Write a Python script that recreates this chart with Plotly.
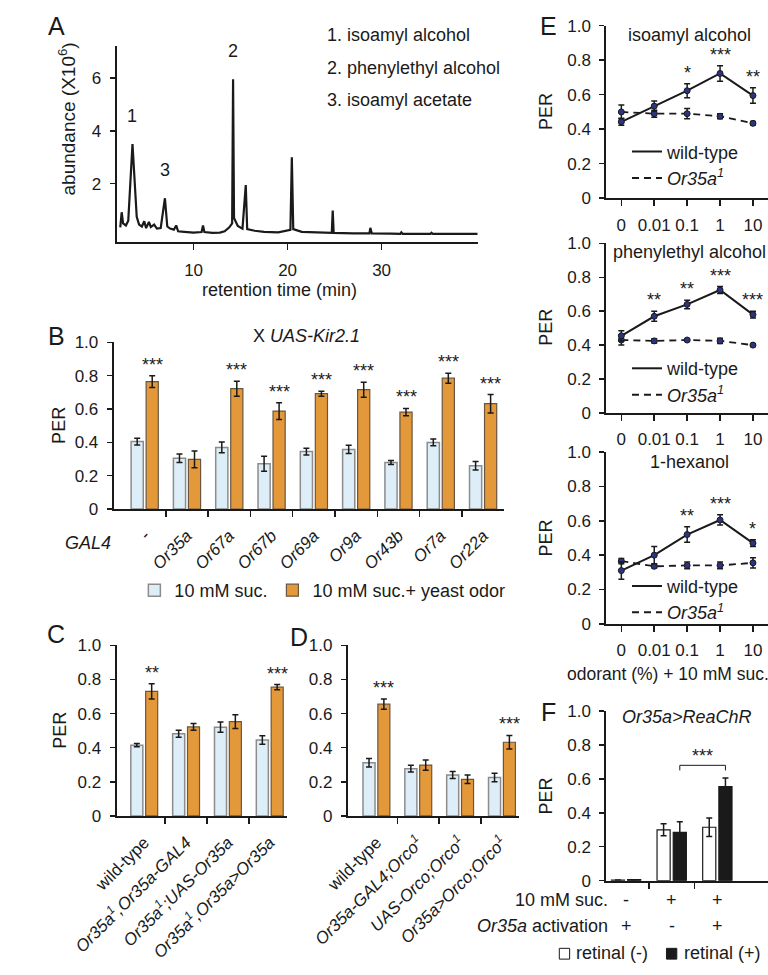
import plotly.graph_objects as go

W, H = 768, 975
FONT = "Liberation Sans, Arial, Helvetica, sans-serif"
INK = "#1a1a1a"
LIGHT, LIGHT_EDGE = "#ddeef8", "#8c8c8c"
ORANGE, ORANGE_EDGE = "#e3983a", "#6a5640"
DOT = "#2b3480"

# ---------------- data ----------------
# A: GC-MS chromatogram of yeast headspace
rt_min = [2.2, 2.35, 2.5, 2.8, 3.05, 3.5, 3.95, 4.2, 4.5, 4.75,
          4.95, 5.25, 5.45, 5.8, 6.1, 6.5, 6.95, 7.2, 7.5, 7.9,
          8.15, 8.35, 9.0, 10.0, 10.85, 11.0, 11.15, 12.0, 12.8, 13.3,
          13.8, 14.1, 14.2, 14.3, 14.7, 15.2, 15.55, 15.7, 16.5, 17.5,
          19.0, 20.3, 20.45, 20.6, 21.5, 23.0, 24.7, 24.8, 24.9, 27.0,
          28.7, 28.8, 28.95, 31.0, 32.0, 32.1, 32.25, 35.2, 35.3, 35.45,
          40.2]
abundance = [0.35, 0.92, 0.5, 0.42, 0.6, 3.5, 0.75, 0.45, 0.38, 0.58,
             0.32, 0.55, 0.36, 0.45, 0.3, 0.32, 1.45, 0.38, 0.3, 0.26,
             0.42, 0.2, 0.18, 0.15, 0.17, 0.42, 0.17, 0.14, 0.15, 0.2,
             0.35, 0.5, 5.95, 0.7, 0.4, 0.3, 1.95, 0.28, 0.22, 0.18,
             0.16, 0.25, 3.0, 0.28, 0.18, 0.15, 0.14, 0.98, 0.14, 0.12,
             0.12, 0.33, 0.12, 0.11, 0.1, 0.16, 0.1, 0.1, 0.14, 0.1,
             0.1]
peak_ids = ["1", "2", "3"]
peak_rt = [3.5, 14.2, 6.95]
peak_top = [3.5, 5.95, 1.45]
compound_names = ["1. isoamyl alcohol", "2. phenylethyl alcohol", "3. isoamyl acetate"]

# B: GAL4 x UAS-Kir2.1
b_genotypes = ["-", "Or35a", "Or67a", "Or67b", "Or69a", "Or9a", "Or43b", "Or7a", "Or22a"]
b_suc = [0.405, 0.305, 0.37, 0.272, 0.345, 0.358, 0.28, 0.40, 0.26]
b_suc_err = [0.02, 0.025, 0.032, 0.045, 0.02, 0.025, 0.012, 0.02, 0.025]
b_yeast = [0.765, 0.298, 0.722, 0.588, 0.692, 0.716, 0.582, 0.785, 0.632]
b_yeast_err = [0.035, 0.05, 0.045, 0.05, 0.015, 0.045, 0.022, 0.03, 0.055]
b_stars = ["***", "", "***", "***", "***", "***", "***", "***", "***"]

# C: Or35a rescue
c_genotypes = ["wild-type",
               "<i>Or35a<sup>1</sup>,Or35a-GAL4</i>",
               "<i>Or35a<sup>1</sup>;UAS-Or35a</i>",
               "<i>Or35a<sup>1</sup>,Or35a&gt;Or35a</i>"]
c_suc = [0.415, 0.482, 0.52, 0.445]
c_suc_err = [0.01, 0.02, 0.03, 0.025]
c_yeast = [0.73, 0.522, 0.553, 0.755]
c_yeast_err = [0.045, 0.02, 0.04, 0.015]
c_stars = ["**", "", "", "***"]

# D: Orco rescue
d_genotypes = ["wild-type",
               "<i>Or35a-GAL4;Orco<sup>1</sup></i>",
               "<i>UAS-Orco;Orco<sup>1</sup></i>",
               "<i>Or35a&gt;Orco;Orco<sup>1</sup></i>"]
d_suc = [0.312, 0.277, 0.24, 0.225]
d_suc_err = [0.025, 0.02, 0.02, 0.025]
d_yeast = [0.655, 0.298, 0.215, 0.432]
d_yeast_err = [0.03, 0.03, 0.025, 0.04]
d_stars = ["***", "", "", "***"]

legend_labels = ["10 mM suc.", "10 mM suc.+ yeast odor"]

# E: odorant dose responses
e_conc = ["0", "0.01", "0.1", "1", "10"]
iso_wt = [0.443, 0.534, 0.623, 0.723, 0.595]
iso_wt_err = [0.02, 0.03, 0.04, 0.045, 0.045]
iso_mut = [0.50, 0.49, 0.49, 0.475, 0.434]
iso_mut_err = [0.04, 0.02, 0.03, 0.015, 0.01]
iso_stars = ["", "", "*", "***", "**"]

phe_wt = [0.455, 0.57, 0.64, 0.725, 0.58]
phe_wt_err = [0.03, 0.03, 0.025, 0.02, 0.02]
phe_mut = [0.43, 0.425, 0.43, 0.425, 0.40]
phe_mut_err = [0.03, 0.012, 0.006, 0.015, 0.008]
phe_stars = ["", "**", "**", "***", "***"]

hex_wt = [0.31, 0.40, 0.52, 0.605, 0.47]
hex_wt_err = [0.05, 0.05, 0.045, 0.03, 0.02]
hex_mut = [0.365, 0.335, 0.34, 0.34, 0.355]
hex_mut_err = [0.015, 0.01, 0.02, 0.02, 0.03]
hex_stars = ["", "", "**", "***", "*"]

e_titles = ["isoamyl alcohol", "phenylethyl alcohol", "1-hexanol"]
line_labels = ["wild-type", "<i>Or35a<sup>1</sup></i>"]

# F: optogenetic activation
f_suc = ["-", "+", "+"]
f_act = ["+", "-", "+"]
f_ret_minus = [0.004, 0.30, 0.315]
f_ret_minus_err = [0.0, 0.035, 0.055]
f_ret_plus = [0.006, 0.285, 0.555]
f_ret_plus_err = [0.0, 0.062, 0.05]
f_legend = ["retinal (-)", "retinal (+)"]

per_vals = [0, 0.2, 0.4, 0.6, 0.8, 1.0]
per_text = ["0", "0.2", "0.4", "0.6", "0.8", "1.0"]

# ---------------- helpers ----------------
def px_x(p):
    return p / W


def px_y(p):
    return 1 - p / H


BARGAP = 0.29
OFF = (1 - BARGAP) / 4
fig = go.Figure()
ann = []
shapes = []


def text(x, y, s, size=18, xref="paper", yref="paper", xanchor="center", yanchor="middle", angle=0, **kw):
    ann.append(dict(x=x, y=y, xref=xref, yref=yref, text=s, showarrow=False, xanchor=xanchor,
                    yanchor=yanchor, textangle=angle, font=dict(size=size, family=FONT, color=INK), **kw))


def err(arr, w=3):
    return dict(type="data", array=arr, color=INK, thickness=1.5, width=w)


def y_axis(top, bottom, rng, vals, labels, anchor):
    return dict(domain=[px_y(bottom), px_y(top)], range=rng, tickvals=vals, ticktext=labels,
                ticks="outside", ticklen=5, tickwidth=1.5, tickcolor=INK, showline=True,
                linecolor=INK, linewidth=2, showgrid=False, zeroline=False, anchor=anchor,
                tickfont=dict(size=17), ticklabelstandoff=5, fixedrange=True)


def x_bar_axis(left, right, rng, n, labels, anchor, show_labels=True):
    return dict(domain=[px_x(left), px_x(right)], range=rng, tickvals=list(range(n)), ticktext=labels,
                ticks="", tickangle=-45, showticklabels=show_labels,
                minor=dict(tickvals=[k + 0.5 for k in range(n - 1)], ticks="outside", ticklen=6,
                           tickwidth=1.5, tickcolor=INK),
                showline=True, linecolor=INK, linewidth=2, showgrid=False, zeroline=False,
                anchor=anchor, tickfont=dict(size=17), ticklabelstandoff=8, fixedrange=True)


# ---------------- A ----------------
fig.add_trace(go.Scatter(x=rt_min, y=abundance, mode="lines", line=dict(color=INK, width=2.2),
                         xaxis="x", yaxis="y", showlegend=False, hoverinfo="skip"))
for pid, prt, ptop in zip(peak_ids, peak_rt, peak_top):
    text(prt, ptop + 0.6, pid, xref="x", yref="y", yanchor="bottom")
for i, nm in enumerate(compound_names):
    text(px_x(297), px_y(27 + 33 * i), nm, xanchor="left")

# ---------------- B, C, D ----------------
panels = [
    ("x2", "y2", b_genotypes, b_suc, b_suc_err, b_yeast, b_yeast_err, b_stars, True),
    ("x3", "y3", c_genotypes, c_suc, c_suc_err, c_yeast, c_yeast_err, c_stars, False),
    ("x4", "y4", d_genotypes, d_suc, d_suc_err, d_yeast, d_yeast_err, d_stars, False),
]
for xa, ya, cats, v1, e1, v2, e2, stars, show in panels:
    xs = list(range(len(cats)))
    fig.add_trace(go.Bar(x=xs, y=v1, error_y=err(e1), name=legend_labels[0], showlegend=show,
                         marker=dict(color=LIGHT, line=dict(color=LIGHT_EDGE, width=1.5)),
                         xaxis=xa, yaxis=ya, legend="legend", hoverinfo="skip"))
    fig.add_trace(go.Bar(x=xs, y=v2, error_y=err(e2), name=legend_labels[1], showlegend=show,
                         marker=dict(color=ORANGE, line=dict(color=ORANGE_EDGE, width=1.2)),
                         xaxis=xa, yaxis=ya, legend="legend", hoverinfo="skip"))
    for i, s in enumerate(stars):
        if s:
            text(i + OFF, v2[i] + e2[i], s, xref=xa, yref=ya, yanchor="bottom", yshift=-1)

# ---------------- E ----------------
e_sets = [
    ("x5", "y5", iso_wt, iso_wt_err, iso_mut, iso_mut_err, iso_stars, "legend2"),
    ("x6", "y6", phe_wt, phe_wt_err, phe_mut, phe_mut_err, phe_stars, "legend3"),
    ("x7", "y7", hex_wt, hex_wt_err, hex_mut, hex_mut_err, hex_stars, "legend4"),
]
for xa, ya, wt, wte, mu, mue, stars, lg in e_sets:
    fig.add_trace(go.Scatter(x=e_conc, y=mu, error_y=err(mue), mode="lines+markers",
                             line=dict(color=INK, width=1.8, dash="7px,5px"),
                             marker=dict(color=DOT, size=6, line=dict(color=INK, width=1)),
                             xaxis=xa, yaxis=ya, showlegend=False, hoverinfo="skip"))
    fig.add_trace(go.Scatter(x=e_conc, y=wt, error_y=err(wte), mode="lines+markers",
                             line=dict(color=INK, width=2),
                             marker=dict(color=DOT, size=6, line=dict(color=INK, width=1)),
                             xaxis=xa, yaxis=ya, showlegend=False, hoverinfo="skip"))
    fig.add_trace(go.Scatter(x=[None], y=[None], mode="lines", name=line_labels[0],
                             line=dict(color=INK, width=2), xaxis=xa, yaxis=ya, legend=lg))
    fig.add_trace(go.Scatter(x=[None], y=[None], mode="lines", name=line_labels[1],
                             line=dict(color=INK, width=2, dash="7px,5px"), xaxis=xa, yaxis=ya, legend=lg))
    for i, s in enumerate(stars):
        if s:
            # category axes are positioned by index
            text(i, wt[i] + wte[i], s, xref=xa, yref=ya, yanchor="bottom", yshift=-1)

# ---------------- F ----------------
fx = list(range(len(f_suc)))
f_fill = ["white", INK]
fig.add_trace(go.Bar(x=fx, y=f_ret_minus, error_y=err(f_ret_minus_err), name=f_legend[0],
                     marker=dict(color=f_fill[0], line=dict(color=INK, width=1.2)), showlegend=False,
                     xaxis="x8", yaxis="y8", hoverinfo="skip"))
fig.add_trace(go.Bar(x=fx, y=f_ret_plus, error_y=err(f_ret_plus_err), name=f_legend[1],
                     marker=dict(color=f_fill[1], line=dict(color=INK, width=1.2)), showlegend=False,
                     xaxis="x8", yaxis="y8", hoverinfo="skip"))
for i, (s, a) in enumerate(zip(f_suc, f_act)):
    text(i, px_y(909), s, xref="x8")
    text(i, px_y(935), a, xref="x8")
text(px_x(600), px_y(909), "10 mM suc.", xanchor="right")
text(px_x(600), px_y(935), "<i>Or35a</i> activation", xanchor="right")
# significance bracket between retinal(+) bars of groups 2 and 3
b_top = max(f_ret_plus[1] + f_ret_plus_err[1], f_ret_plus[2] + f_ret_plus_err[2]) + 0.075
shapes.append(dict(type="path", xref="x8", yref="y8",
                   path=f"M {1 + OFF},{b_top - 0.03} L {1 + OFF},{b_top} L {2 + OFF},{b_top} L {2 + OFF},{b_top - 0.03}",
                   line=dict(color=INK, width=1)))
text(1.5 + OFF, b_top, "***", xref="x8", yref="y8", yanchor="bottom", yshift=-3)
# key for F (swatch + label)
for (sx, tx), lab, fill in zip([(546, 562), (660, 677)], f_legend, f_fill):
    shapes.append(dict(type="rect", xref="paper", yref="paper", x0=px_x(sx), x1=px_x(sx + 11),
                       y0=px_y(969), y1=px_y(958), fillcolor=fill, line=dict(color=INK, width=1)))
    text(px_x(tx), px_y(963), lab, xanchor="left")

# ---------------- labels ----------------
for letter, x, y in [("A", 11, 17), ("B", 11, 334), ("C", 11, 637), ("D", 269, 640), ("E", 535, 17), ("F", 535, 717)]:
    text(px_x(x), px_y(y), letter, size=25)
text(px_x(22), px_y(112), "abundance (X10<sup>6</sup>)", size=19, angle=-90)
text(px_x(248), px_y(287), "retention time (min)")
text(px_x(277), px_y(333), "X <i>UAS-Kir2.1</i>")
text(px_x(45), px_y(545), "<i>GAL4</i>")
for y in [425, 736]:
    text(px_x(14), px_y(y), "PER", angle=-90)
for y in [105, 325, 540, 803]:
    text(px_x(532), px_y(y), "PER", angle=-90)
for t, y in zip(e_titles, [27, 248, 462]):
    text(px_x(685), px_y(y), t)
text(px_x(682), px_y(722), "<i>Or35a&gt;ReaChR</i>")
text(px_x(662), px_y(678), "odorant (%) + 10 mM suc.", size=17.5)

# ---------------- layout ----------------
e_x = dict(domain=[px_x(596), 1.0], range=[-0.457, 4.457], type="category", ticks="outside", ticklen=6,
           tickwidth=1.5, tickcolor=INK, showline=True, linecolor=INK, linewidth=2, showgrid=False,
           zeroline=False, tickfont=dict(size=17), ticklabelstandoff=4, fixedrange=True)

layout = dict(
    width=W, height=H, margin=dict(l=0, r=0, t=0, b=0),
    paper_bgcolor="white", plot_bgcolor="rgba(0,0,0,0)",
    font=dict(family=FONT, size=18, color=INK),
    barmode="group", bargap=BARGAP, bargroupgap=0.19,
    xaxis=dict(domain=[px_x(75), px_x(460)], range=[1.8, 40.3], tickvals=[10, 20, 30],
               ticks="outside", ticklen=6, tickwidth=1.5, tickcolor=INK, showline=True, linecolor=INK,
               linewidth=2, showgrid=False, zeroline=False, anchor="y", tickfont=dict(size=17),
               ticklabelstandoff=5, fixedrange=True),
    yaxis=y_axis(38, 238, [-0.22, 7.2], [2, 4, 6], ["2", "4", "6"], "x"),
    xaxis2=x_bar_axis(72, 487, [-0.733, 8.49], len(b_genotypes), [f"<i>{g}</i>" for g in b_genotypes], "y2"),
    yaxis2=y_axis(340, 510, [0, 1], per_vals, per_text, "x2"),
    xaxis3=x_bar_axis(75, 256, [-0.663, 3.404], len(c_genotypes), c_genotypes, "y3"),
    yaxis3=y_axis(649, 823, [0, 1], per_vals, per_text, "x3"),
    xaxis4=x_bar_axis(321, 503, [-0.685, 3.404], len(d_genotypes), d_genotypes, "y4"),
    yaxis4=y_axis(649, 823, [0, 1], per_vals, per_text, "x4"),
    xaxis5=dict(e_x, anchor="y5"),
    yaxis5=y_axis(17, 193, [0, 1], per_vals, per_text, "x5"),
    xaxis6=dict(e_x, anchor="y6"),
    yaxis6=y_axis(239, 412, [0, 1], per_vals, per_text, "x6"),
    xaxis7=dict(e_x, anchor="y7"),
    yaxis7=y_axis(452, 627, [0, 1], per_vals, per_text, "x7"),
    xaxis8=x_bar_axis(596, 768, [-0.433, 3.11], len(f_suc), f_suc, "y8", show_labels=False),
    yaxis8=y_axis(716, 889, [0, 1], per_vals, per_text, "x8"),
    legend=dict(orientation="h", x=px_x(94), y=px_y(593), xanchor="left", yanchor="middle",
                font=dict(size=18), bgcolor="rgba(0,0,0,0)"),
    annotations=ann, shapes=shapes,
)
for lg, yc in [("legend2", 159), ("legend3", 380), ("legend4", 602)]:
    layout[lg] = dict(x=px_x(618), y=px_y(yc), xanchor="left", yanchor="middle", font=dict(size=18),
                      bgcolor="rgba(0,0,0,0)", tracegroupgap=0)

fig.update_layout(**layout)
# the page body has a default 8px margin; remove it so the 768x975 figure fills the window exactly
fig.write_html("out.html",
               config={"displayModeBar": False, "staticPlot": True},
               post_script="document.body.style.margin='0';document.body.style.overflow='hidden';")
